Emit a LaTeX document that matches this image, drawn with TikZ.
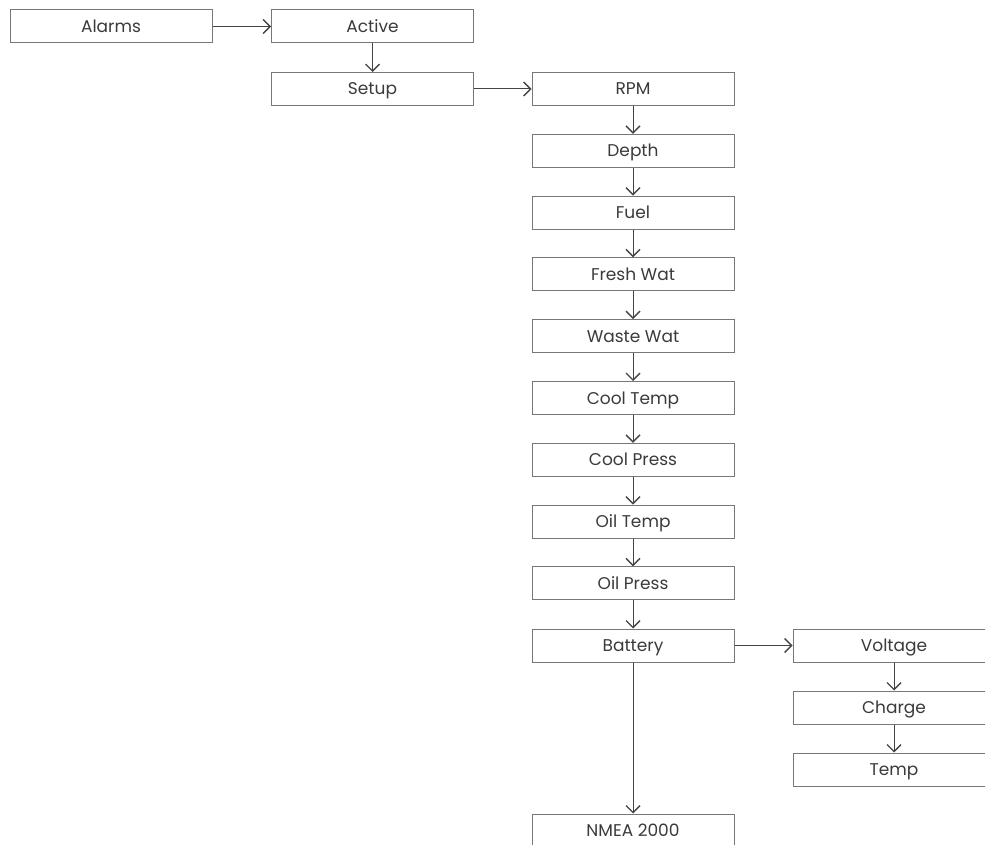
\documentclass[tikz,border=0pt]{standalone}
\usepackage{fontspec}
\setmainfont{Poppins}
\usetikzlibrary{arrows.meta}
\definecolor{boxline}{HTML}{777777}
\definecolor{conn}{HTML}{444444}
\definecolor{txt}{HTML}{3A3A3A}
\begin{document}
\begin{tikzpicture}[x=1pt,y=-1pt,
  menubox/.style={draw=boxline, line width=1pt, minimum width=202pt, minimum height=33pt,
    inner sep=0pt, text height=12pt, text depth=0pt, text=txt, font=\fontsize{17}{19}\selectfont},
  link/.style={draw=conn, line width=1pt, -{Straight Barb[length=7pt,width=14pt,line width=1.4pt]}}]
\useasboundingbox (0,0) rectangle (985,845);
\clip (0,0) rectangle (985,845);
\node[menubox] (alarms) at (111,26.5) {Alarms};
\node[menubox] (active) at (372.5,26.5) {Active};
\node[menubox] (setup) at (372.5,89) {Setup};
\node[menubox] (rpm) at (633,89) {RPM};
\node[menubox] (depth) at (633,150.8) {Depth};
\node[menubox] (fuel) at (633,212.6) {Fuel};
\node[menubox] (fresh) at (633,274.4) {Fresh Wat};
\node[menubox] (waste) at (633,336.2) {Waste Wat};
\node[menubox] (cooltemp) at (633,398) {Cool Temp};
\node[menubox] (coolpress) at (633,459.8) {Cool Press};
\node[menubox] (oiltemp) at (633,521.6) {Oil Temp};
\node[menubox] (oilpress) at (633,583.4) {Oil Press};
\node[menubox] (battery) at (633,645.5) {Battery};
\node[menubox] (nmea) at (633,830.5) {NMEA 2000};
\node[menubox] (voltage) at (894,645.5) {Voltage};
\node[menubox] (charge) at (894,707.5) {Charge};
\node[menubox] (temp) at (894,769.5) {Temp};
\draw[link] (alarms) -- (active);
\draw[link] (active) -- (setup);
\draw[link] (setup) -- (rpm);
\draw[link] (rpm) -- (depth);
\draw[link] (depth) -- (fuel);
\draw[link] (fuel) -- (fresh);
\draw[link] (fresh) -- (waste);
\draw[link] (waste) -- (cooltemp);
\draw[link] (cooltemp) -- (coolpress);
\draw[link] (coolpress) -- (oiltemp);
\draw[link] (oiltemp) -- (oilpress);
\draw[link] (oilpress) -- (battery);
\draw[link] (battery) -- (nmea);
\draw[link] (battery) -- (voltage);
\draw[link] (voltage) -- (charge);
\draw[link] (charge) -- (temp);
\end{tikzpicture}
\end{document}
